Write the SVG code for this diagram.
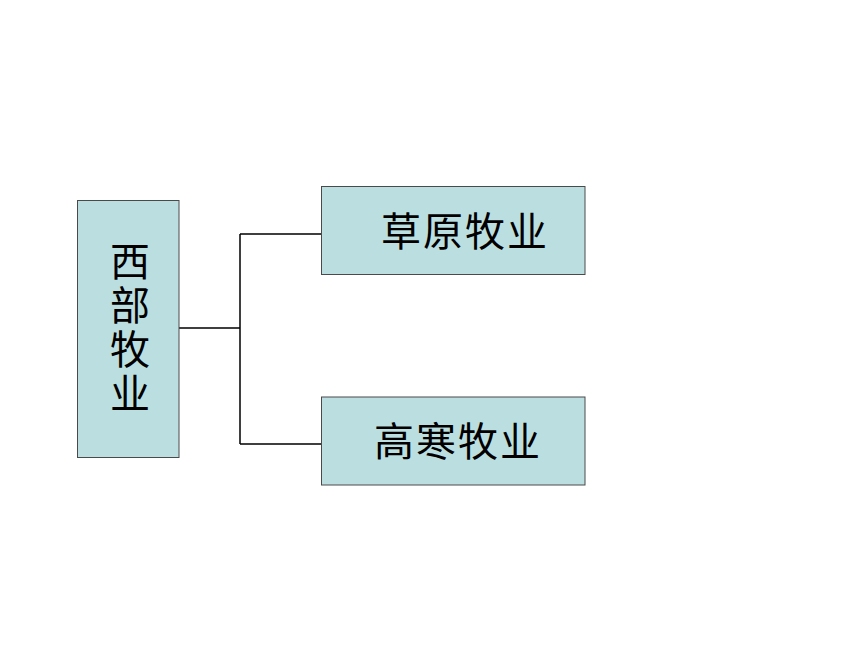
<svg xmlns="http://www.w3.org/2000/svg" width="860" height="645" viewBox="0 0 860 645">
<style>
.box{fill:#BBDFE1;stroke:#4a4a4a;stroke-width:1}
.lbl{font-family:"Noto Sans CJK SC","Noto Sans CJK JP",sans-serif;font-size:40px;fill:#000;text-anchor:middle}
.vert{writing-mode:vertical-rl;letter-spacing:4px}
.conn{fill:none;stroke:#000;stroke-width:1.5}
</style>
<rect width="860" height="645" fill="#fff"/>
<g id="connectors">
<path class="conn" d="M179,328 H240 M240,234 V444 M240,234 H321 M240,444 H321"/>
</g>
<g id="node-xibu">
<rect class="box" x="77.5" y="200.5" width="101.5" height="257"/>
<text class="lbl vert" x="130" y="329">西部牧业</text>
</g>
<g id="node-caoyuan">
<rect class="box" x="321.5" y="186.5" width="263.5" height="88"/>
<text class="lbl" x="465" y="246" letter-spacing="2">草原牧业</text>
</g>
<g id="node-gaohan">
<rect class="box" x="321.5" y="397" width="263.5" height="88"/>
<text class="lbl" x="458" y="456" letter-spacing="2">高寒牧业</text>
</g>
</svg>
